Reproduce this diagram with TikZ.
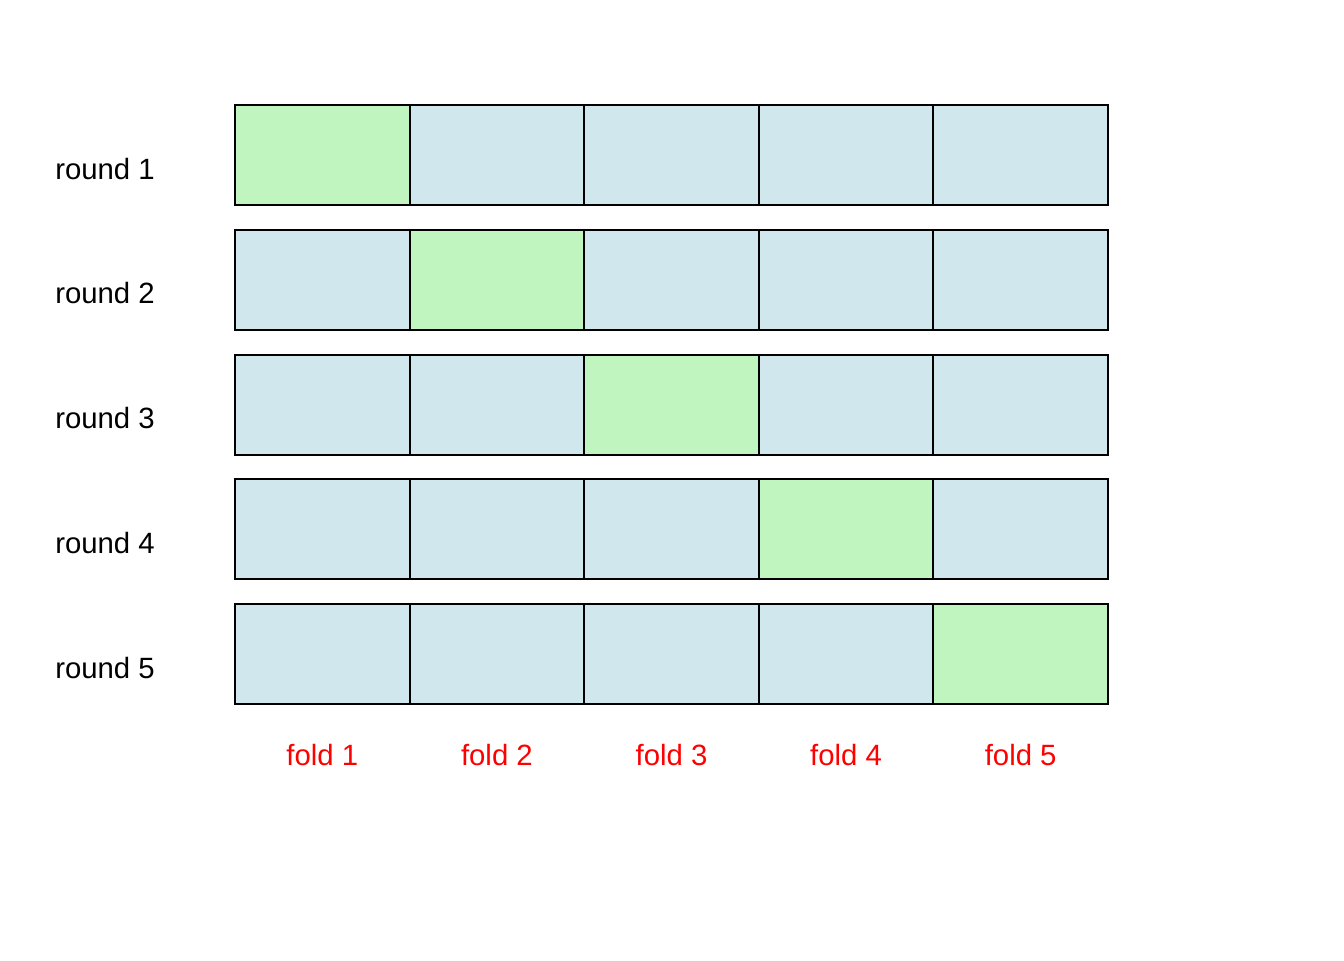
\documentclass[tikz,border=0pt]{standalone}
\usepackage{fontspec}
\setmainfont{Liberation Sans}
\definecolor{trainc}{HTML}{D0E7EE}
\definecolor{testc}{HTML}{C1F5BF}
\definecolor{foldred}{HTML}{FF0000}
\begin{document}
\begin{tikzpicture}[x=0.75pt,y=-0.75pt,
  cell/.style={draw=black,line width=1.5pt,fill=trainc,minimum width=131pt,minimum height=75pt,inner sep=0pt,outer sep=0pt},
  testcell/.style={cell,fill=testc},
  rowlabel/.style={font=\fontsize{22}{26}\selectfont,anchor=base west,inner sep=0pt},
  foldlabel/.style={font=\fontsize{22}{26}\selectfont,text=foldred,anchor=base,inner sep=0pt}]
\useasboundingbox (0,0) rectangle (1344,960);
\foreach \r in {1,...,5}{
  \pgfmathsetmacro{\yc}{155+124.75*(\r-1)}
  \node[rowlabel] (lab\r) at (55,\yc+24) {round \r};
  \foreach \c in {1,...,5}{
    \pgfmathsetmacro{\xc}{322.3+174.6*(\c-1)}
    \ifnum\r=\c
      \node[testcell] (c\r\c) at (\xc,\yc) {};
    \else
      \node[cell] (c\r\c) at (\xc,\yc) {};
    \fi
  }
}
\foreach \c in {1,...,5}{
  \pgfmathsetmacro{\xc}{322.3+174.6*(\c-1)}
  \node[foldlabel] (f\c) at (\xc,765) {fold \c};
}
\end{tikzpicture}
\end{document}
